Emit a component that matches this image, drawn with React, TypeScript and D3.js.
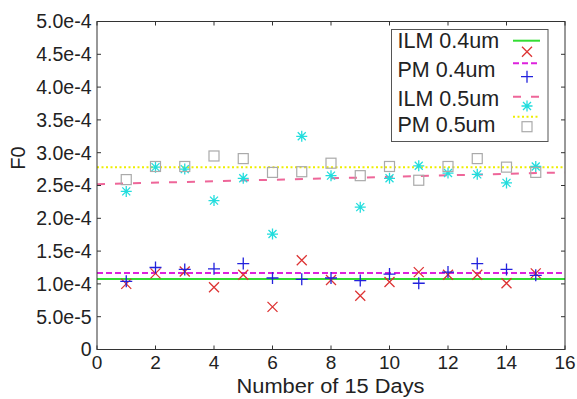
import React from "react";
import * as d3 from "d3";

const days = [1, 2, 3, 4, 5, 6, 7, 8, 9, 10, 11, 12, 13, 14, 15];
const ilm04 = [1.0e-4, 1.16e-4, 1.19e-4, 0.95e-4, 1.14e-4, 0.65e-4, 1.36e-4, 1.06e-4, 0.82e-4, 1.03e-4, 1.18e-4, 1.14e-4, 1.14e-4, 1.01e-4, 1.16e-4];
const pm04 = [1.04e-4, 1.25e-4, 1.22e-4, 1.23e-4, 1.31e-4, 1.09e-4, 1.07e-4, 1.09e-4, 1.05e-4, 1.15e-4, 1.01e-4, 1.18e-4, 1.31e-4, 1.22e-4, 1.13e-4];
const ilm05 = [2.41e-4, 2.78e-4, 2.75e-4, 2.27e-4, 2.61e-4, 1.76e-4, 3.25e-4, 2.65e-4, 2.17e-4, 2.61e-4, 2.8e-4, 2.69e-4, 2.67e-4, 2.54e-4, 2.79e-4];
const pm05 = [2.59e-4, 2.79e-4, 2.79e-4, 2.95e-4, 2.91e-4, 2.7e-4, 2.71e-4, 2.84e-4, 2.65e-4, 2.79e-4, 2.58e-4, 2.79e-4, 2.91e-4, 2.78e-4, 2.7e-4];
// fitted lines: [value at x=0, value at x=16]
const ilm04Fit = [1.075e-4, 1.075e-4];
const pm04Fit = [1.165e-4, 1.165e-4];
const ilm05Fit = [2.52e-4, 2.7e-4];
const pm05Fit = [2.78e-4, 2.78e-4];
const fitX = [0, 16];
const xTicks = [0, 2, 4, 6, 8, 10, 12, 14, 16];
const yTicks = [0, 5e-5, 1e-4, 1.5e-4, 2e-4, 2.5e-4, 3e-4, 3.5e-4, 4e-4, 4.5e-4, 5e-4];
const yTickLabels = ["0", "5.0e-5", "1.0e-4", "1.5e-4", "2.0e-4", "2.5e-4", "3.0e-4", "3.5e-4", "4.0e-4", "4.5e-4", "5.0e-4"];
const legendLabels = ["ILM 0.4um", "PM 0.4um", "ILM 0.5um", "PM 0.5um"];

const L = 97, R = 565, T = 21.5, B = 349.5;
const FONT = "'Liberation Sans', Arial, sans-serif";

const C = {
  green: "#33dd33",
  magenta: "#dd22dd",
  pink: "#ee6699",
  yellow: "#eeee00",
  red: "#dd3333",
  blue: "#2222dd",
  cyan: "#22dddd",
  gray: "#aaaaaa",
};

function Cross({ x, y }: { x: number; y: number }) {
  const s = 5;
  return <path d={`M${x - s},${y - s}L${x + s},${y + s}M${x - s},${y + s}L${x + s},${y - s}`} stroke={C.red} strokeWidth={1.3} fill="none" />;
}
function Plus({ x, y }: { x: number; y: number }) {
  const s = 6;
  return <path d={`M${x - s},${y}L${x + s},${y}M${x},${y - s}L${x},${y + s}`} stroke={C.blue} strokeWidth={1.3} fill="none" />;
}
function Star({ x, y }: { x: number; y: number }) {
  const s = 5.5, d = 4;
  return <path d={`M${x - s},${y}L${x + s},${y}M${x},${y - s}L${x},${y + s}M${x - d},${y - d}L${x + d},${y + d}M${x - d},${y + d}L${x + d},${y - d}`} stroke={C.cyan} strokeWidth={1.3} fill="none" />;
}
function Square({ x, y }: { x: number; y: number }) {
  const s = 5;
  return <rect x={x - s} y={y - s} width={2 * s} height={2 * s} stroke={C.gray} strokeWidth={1.2} fill="none" />;
}

export default function App() {
  const x = d3.scaleLinear().domain([0, 16]).range([L, R]);
  const y = d3.scaleLinear().domain([0, 5e-4]).range([B, T]);
  const line = d3.line<[number, number]>().x((d) => x(d[0])).y((d) => y(d[1]));
  const fit = (v: number[]) => line(fitX.map((fx, i) => [fx, v[i]] as [number, number])) || "";

  const lg = { x: 391.5, y: 29.5, w: 156.5, h: 112 };
  const baselines = [48, 77, 105.5, 131.5];
  const lx1 = 513, lx2 = 540, mx = 527;
  const lineRows = [40.7, 63.3, 96.7, 116.7];
  const markRows = [51.7, 76.7, 106, 126.7];

  return (
    <svg width={577} height={399} style={{ position: "absolute", left: 0, top: 0, background: "#fff" }} fontFamily={FONT}>
      <rect x={0} y={0} width={577} height={399} fill="#fff" />
      {/* fitted lines */}
      <path d={fit(pm05Fit)} stroke={C.yellow} strokeWidth={2} strokeDasharray="2,2.5" fill="none" />
      <path d={fit(ilm05Fit)} stroke={C.pink} strokeWidth={2} strokeDasharray="8,10" fill="none" />
      <path d={fit(pm04Fit)} stroke={C.magenta} strokeWidth={2} strokeDasharray="6,3" fill="none" />
      <path d={fit(ilm04Fit)} stroke={C.green} strokeWidth={2} fill="none" />
      {/* points */}
      {days.map((d, i) => <Star key={"a" + i} x={x(d)} y={y(ilm05[i])} />)}
      {days.map((d, i) => <Square key={"s" + i} x={x(d)} y={y(pm05[i])} />)}
      {days.map((d, i) => <Cross key={"c" + i} x={x(d)} y={y(ilm04[i])} />)}
      {days.map((d, i) => <Plus key={"p" + i} x={x(d)} y={y(pm04[i])} />)}

      {/* frame */}
      <rect x={L} y={T} width={R - L} height={B - T} fill="none" stroke="#333" strokeWidth={1} />
      {xTicks.map((t) => (
        <g key={"xt" + t}>
          <line x1={x(t)} x2={x(t)} y1={B} y2={B - 4} stroke="#333" />
          <line x1={x(t)} x2={x(t)} y1={T} y2={T + 4} stroke="#333" />
          <text x={x(t)} y={369} fontSize={19} textAnchor="middle" fill="#222">{t}</text>
        </g>
      ))}
      {yTicks.map((t, i) => (
        <g key={"yt" + i}>
          <line x1={L} x2={L + 4} y1={y(t)} y2={y(t)} stroke="#333" />
          <line x1={R} x2={R - 4} y1={y(t)} y2={y(t)} stroke="#333" />
          <text x={91.5} y={y(t)} dy="0.35em" fontSize={19.5} textAnchor="end" fill="#222">{yTickLabels[i]}</text>
        </g>
      ))}
      <text x={236.5} y={392.5} fontSize={20} textLength={188} lengthAdjust="spacingAndGlyphs" fill="#222">Number of 15 Days</text>
      <text transform="translate(25,158) rotate(-90)" fontSize={20} textAnchor="middle" fill="#222">F0</text>

      {/* legend */}
      <rect x={lg.x} y={lg.y} width={lg.w} height={lg.h} fill="#fff" stroke="#555" strokeWidth={1} />
      {legendLabels.map((l, i) => (
        <text key={"lt" + i} x={397.5} y={baselines[i]} fontSize={21.5} fill="#222">{l}</text>
      ))}
      <line x1={lx1} x2={lx2} y1={lineRows[0]} y2={lineRows[0]} stroke={C.green} strokeWidth={2} />
      <line x1={lx1} x2={lx2} y1={lineRows[1]} y2={lineRows[1]} stroke={C.magenta} strokeWidth={2} strokeDasharray="6,3" />
      <line x1={lx1} x2={lx2} y1={lineRows[2]} y2={lineRows[2]} stroke={C.pink} strokeWidth={2} strokeDasharray="8,10" />
      <line x1={lx1} x2={lx2} y1={lineRows[3]} y2={lineRows[3]} stroke={C.yellow} strokeWidth={2} strokeDasharray="2,2.5" />
      <Cross x={mx} y={markRows[0]} />
      <Plus x={mx} y={markRows[1]} />
      <Star x={mx} y={markRows[2]} />
      <Square x={mx} y={markRows[3]} />
    </svg>
  );
}
